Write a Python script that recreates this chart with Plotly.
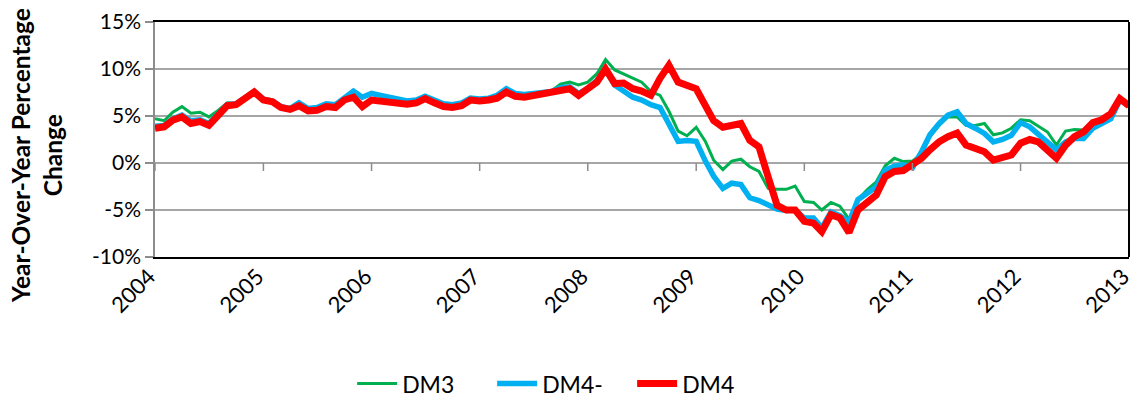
import pandas as pd
import plotly.graph_objects as go

# Monthly observations, Jan 2004 through Jan 2013
months = pd.date_range("2004-01-01", "2013-01-01", freq="MS")

year_labels = ["2004", "2005", "2006", "2007", "2008", "2009", "2010", "2011", "2012", "2013"]
y_ticks = [-10, -5, 0, 5, 10, 15]
y_tick_labels = ["-10%", "-5%", "0%", "5%", "10%", "15%"]

dm3 = [
    4.7, 4.5, 5.4, 6.0, 5.3, 5.4, 4.9, 5.6, 6.4, 6.3, 6.85, 7.55,
    6.7, 6.5, 5.9, 5.6, 6.0, 5.6, 5.7, 6.1, 6.0, 6.7, 6.9, 5.9,
    6.6, 6.5, 6.4, 6.2, 6.15, 6.3, 6.75, 6.3, 5.9, 5.8, 6.0, 6.6,
    6.5, 6.6, 6.8, 7.45, 7.0, 6.9, 7.1, 7.4, 7.7, 8.4, 8.6, 8.3,
    8.6, 9.5, 11.0, 9.9, 9.5, 9.0, 8.6, 7.6, 7.2, 5.5, 3.4, 2.9,
    3.8, 2.3, 0.3, -0.7, 0.2, 0.4, -0.4, -0.9, -2.7, -2.8, -2.8, -2.45,
    -4.1, -4.2, -5.0, -4.2, -4.6, -6.0, -3.9, -2.85, -2.0, -0.3, 0.5, 0.15,
    0.2, 1.0, 2.8, 4.0, 4.9, 4.9, 4.0, 4.0, 4.2, 3.0, 3.2, 3.7,
    4.6, 4.5, 3.9, 3.3, 1.9, 3.4, 3.55, 3.5, 3.9, 4.4, 4.9, 6.8,
    6.1,
]

dm4_minus = [
    3.9, 4.0, 4.7, 5.1, 4.5, 4.6, 4.2, 5.2, 6.2, 6.3, 6.9, 7.6,
    6.8, 6.6, 6.0, 5.8, 6.4, 5.8, 5.9, 6.3, 6.2, 7.0, 7.65, 7.0,
    7.4, 7.2, 7.0, 6.8, 6.6, 6.7, 7.1, 6.7, 6.3, 6.2, 6.4, 6.9,
    6.8, 6.9, 7.2, 7.9, 7.4, 7.3, 7.4, 7.4, 7.6, 8.0, 8.1, 7.4,
    7.9, 8.8, 9.9, 8.3, 7.6, 7.0, 6.7, 6.2, 5.9, 4.0, 2.3, 2.4,
    2.3, 0.2, -1.4, -2.7, -2.15, -2.3, -3.7, -4.0, -4.45, -4.9, -5.05, -5.0,
    -5.85, -5.85, -6.9, -5.2, -5.6, -6.3, -3.9, -3.2, -2.55, -0.75, -0.35, -0.2,
    -0.5, 1.2, 3.0, 4.2, 5.1, 5.45, 4.2, 3.7, 3.15, 2.25, 2.5, 2.95,
    4.3, 3.85, 3.0, 2.25, 1.4, 2.25, 2.6, 2.6, 3.7, 4.2, 4.7, 6.7,
    6.1,
]

dm4 = [
    3.7, 3.85, 4.55, 4.9, 4.2, 4.4, 4.0, 5.1, 6.1, 6.2, 6.85, 7.55,
    6.7, 6.5, 5.9, 5.7, 6.1, 5.55, 5.6, 6.0, 5.9, 6.7, 7.0, 6.0,
    6.7, 6.6, 6.5, 6.3, 6.25, 6.4, 6.85, 6.4, 6.0, 5.9, 6.1, 6.7,
    6.6, 6.7, 6.9, 7.55, 7.1, 7.0, 7.2, 7.3, 7.45, 7.8, 7.9, 7.2,
    7.8, 8.6, 10.0, 8.45, 8.5, 7.9, 7.65, 7.2, 9.0, 10.4, 8.6, 8.3,
    7.9, 6.1, 4.5, 3.8, 4.0, 4.2, 2.4, 1.7, -1.5, -4.5, -5.0, -5.0,
    -6.2, -6.4, -7.3, -5.5, -5.85, -7.4, -5.0, -4.1, -3.4, -1.45, -0.9, -0.8,
    -0.2, 0.5, 1.4, 2.25, 2.8, 3.2, 1.9, 1.55, 1.2, 0.3, 0.5, 0.85,
    2.1, 2.5, 2.25, 1.4, 0.5, 1.9, 2.8, 3.3, 4.3, 4.6, 5.25, 6.85,
    6.1,
]

FONT = "Lato, 'Open Sans', sans-serif"
GRID = "#A6A6A6"

year_dates = [pd.Timestamp(f"{y}-01-01") for y in year_labels]

fig = go.Figure()
fig.add_trace(go.Scatter(x=months, y=dm3, mode="lines", name="DM3",
                         line=dict(color="#00B050", width=3)))
fig.add_trace(go.Scatter(x=months, y=dm4_minus, mode="lines", name="DM4-",
                         line=dict(color="#00B0F0", width=5.5)))
fig.add_trace(go.Scatter(x=months, y=dm4, mode="lines", name="DM4",
                         line=dict(color="#FF0000", width=7)))

# small tick marks hanging below the 0% line at each year
shapes = []
for d in year_dates:
    shapes.append(dict(type="line", xref="x", yref="y", x0=d, x1=d,
                       ysizemode="pixel", yanchor=0, y0=0, y1=-8,
                       line=dict(color="#8C8C8C", width=1.5)))
# right border of the plot area
shapes.append(dict(type="line", xref="paper", yref="paper", x0=1, x1=1, y0=0, y1=1,
                   line=dict(color="black", width=2)))

fig.update_layout(
    template="none",
    width=1133, height=398,
    margin=dict(l=155, r=4, t=22, b=141, autoexpand=False),
    paper_bgcolor="white", plot_bgcolor="white",
    font=dict(family=FONT, color="black"),
    showlegend=True,
    legend=dict(orientation="h", xref="paper", x=0.418, xanchor="center",
                yref="container", y=0.036, yanchor="middle",
                font=dict(family=FONT, size=23), itemwidth=40,
                entrywidth=85, entrywidthmode="pixels", tracegroupgap=0),
    shapes=shapes,
    annotations=[dict(text="<b>Year-Over-Year Percentage<br>Change</b>",
                      xref="paper", yref="paper", x=-0.121, y=0.43,
                      xanchor="center", yanchor="middle", textangle=-90,
                      showarrow=False, font=dict(family=FONT, size=24.5))],
)

fig.update_xaxes(
    type="date", range=[months[0], months[-1] + pd.Timedelta(hours=2)],
    tickvals=year_dates, ticktext=year_labels, tickangle=-45,
    tickfont=dict(family=FONT, size=22), ticklabeloverflow="allow",
    ticklabelstandoff=-4, ticklabelshift=-6,
    ticks="", showgrid=False, zeroline=False,
    showline=True, linecolor="black", linewidth=2, mirror=True,
    automargin=False,
)
fig.update_yaxes(
    range=[-10, 15], tickvals=y_ticks, ticktext=y_tick_labels,
    tickfont=dict(family=FONT, size=21),
    ticks="outside", ticklen=8, tickcolor="#8C8C8C", tickwidth=1.5,
    showgrid=True, gridcolor=GRID, gridwidth=1.5, zeroline=False,
    showline=True, linecolor="#8C8C8C", linewidth=1.5,
    automargin=False,
)

fig.write_html("out.html")
